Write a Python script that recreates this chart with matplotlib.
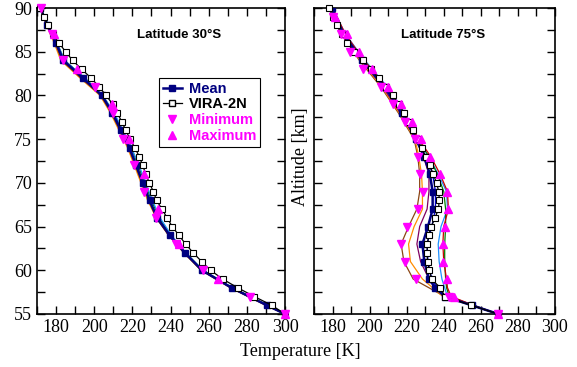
import matplotlib
matplotlib.use("Agg")
import matplotlib.pyplot as plt
from matplotlib.ticker import MultipleLocator
from matplotlib.lines import Line2D

# ---------------- Left panel: Latitude 30S ----------------
L_title = "Latitude 30\u00b0S"
L_z = [90, 88, 86, 84, 82, 80, 78, 76, 74, 72, 70, 68, 66, 64, 62, 60, 58, 56, 55]
L_mean = [171.8, 175.5, 180.0, 183.8, 194.0, 204.0, 209.5, 214.0, 218.5, 222.0, 225.5, 229.0, 233.0, 239.5, 247.5, 256.5, 272.0, 290.5, 300.0]
L_orange = [171.8, 175.0, 179.0, 182.5, 192.5, 203.0, 208.5, 213.0, 217.5, 221.0, 224.5, 228.0, 232.5, 239.0, 247.0, 256.0, 271.5, 290.0, 300.0]
L_brown = [171.8, 175.2, 179.5, 183.0, 193.0, 203.5, 209.0, 213.5, 218.0, 221.5, 225.0, 228.5, 232.5, 239.0, 247.0, 256.0, 271.5, 290.0, 300.0]
L_green = [172.0, 176.0, 180.5, 184.5, 195.0, 204.5, 210.0, 215.0, 219.5, 223.0, 226.5, 230.0, 234.0, 240.0, 248.0, 257.0, 272.5, 291.0, 300.0]
L_cyan = [172.0, 176.0, 180.5, 184.5, 195.0, 204.5, 210.5, 215.0, 219.5, 223.5, 227.0, 230.5, 234.5, 240.5, 248.0, 257.0, 272.5, 291.0, 300.0]
L_purple = [171.8, 175.5, 180.0, 184.0, 194.0, 204.0, 209.5, 214.5, 218.5, 222.0, 225.5, 229.0, 233.0, 239.5, 247.5, 256.5, 272.0, 290.5, 300.0]
L_red = [171.8, 175.3, 179.8, 183.5, 193.5, 203.8, 209.3, 214.0, 218.3, 221.8, 225.3, 228.8, 233.0, 239.3, 247.3, 256.3, 271.8, 290.3, 300.0]

L_vira_z = [90, 89, 88, 87, 86, 85, 84, 83, 82, 81, 80, 79, 78, 77, 76, 75, 74, 73, 72, 71,
            70, 69, 68, 67, 66, 65, 64, 63, 62, 61, 60, 59, 58, 57, 56, 55]
L_vira = [171.8, 173.8, 175.6, 178.2, 181.5, 185.0, 188.7, 193.4, 198.3, 202.5, 206.2, 209.7, 212.1, 214.4,
          216.6, 218.7, 221.4, 223.6, 225.4, 227.0, 228.9, 231.0, 232.7, 235.5, 238.2, 240.9, 244.4, 247.9,
          251.9, 256.3, 261.0, 267.3, 275.2, 283.9, 293.0, 300.0]

L_min_z = [90, 87, 84, 81, 78, 75, 72, 69, 66, 63, 60, 57, 55]
L_min = [171.9, 177.7, 183.8, 200.4, 209.7, 215.2, 221.0, 226.1, 232.2, 242.7, 256.8, 281.6, 300.0]
L_max_z = [87, 83, 79, 75, 71, 67, 63, 59, 55]
L_max = [179.0, 191.1, 209.5, 218.4, 226.1, 233.6, 244.6, 265.0, 300.0]

# ---------------- Right panel: Latitude 75S ----------------
R_title = "Latitude 75\u00b0S"
R_z = [90, 87, 84, 81, 78, 75, 73, 71, 69, 67, 65, 63, 61, 59, 58, 57, 56, 55]
R_mean = [179.5, 186.0, 196.0, 208.0, 217.5, 225.0, 229.5, 232.5, 234.0, 234.0, 231.5, 228.5, 229.5, 232.0, 235.5, 240.5, 255.0, 269.4]
R_brown = [179.5, 185.0, 194.5, 206.0, 215.5, 224.0, 226.0, 227.0, 227.0, 225.5, 221.0, 217.0, 218.5, 223.5, 232.0, 240.5, 255.0, 269.4]
R_orange = [179.5, 185.5, 195.0, 206.5, 216.0, 224.5, 226.5, 228.0, 228.5, 228.5, 224.0, 221.0, 222.0, 228.5, 234.0, 239.5, 255.0, 269.4]
R_purple = [179.0, 185.5, 195.5, 207.0, 216.5, 225.0, 229.0, 232.0, 232.0, 231.0, 227.0, 225.5, 227.5, 232.0, 236.0, 240.0, 255.0, 269.4]
R_blue = [179.5, 186.5, 196.5, 208.5, 218.0, 225.5, 230.5, 234.0, 235.5, 235.5, 233.5, 231.0, 231.5, 233.5, 236.5, 241.0, 255.0, 269.4]
R_cyan = [180.0, 187.0, 197.5, 209.5, 219.0, 226.0, 232.0, 237.0, 241.5, 242.0, 238.5, 237.0, 237.5, 239.0, 240.5, 242.0, 255.5, 269.4]
R_red = [180.0, 187.0, 197.0, 209.0, 218.5, 226.5, 233.0, 238.0, 242.0, 242.5, 240.0, 239.5, 240.0, 241.5, 242.0, 244.0, 256.0, 269.4]
R_green = [180.0, 186.5, 197.0, 209.0, 218.5, 226.0, 232.0, 236.5, 240.0, 241.0, 241.0, 240.5, 240.5, 241.0, 241.5, 243.0, 256.0, 269.4]

R_vira_z = L_vira_z
R_vira = [178.1, 180.2, 182.2, 185.0, 188.0, 191.6, 196.2, 200.5, 204.8, 208.8, 212.5, 215.8, 218.5, 220.5,
          223.4, 225.5, 228.0, 230.2, 232.4, 234.3, 236.1, 237.3, 237.6, 237.1, 235.3, 233.3, 231.8, 231.2,
          230.9, 231.3, 232.2, 233.5, 238.0, 240.7, 254.7, 269.4]

R_min_z = [89, 87, 85, 83, 81, 79, 77, 75, 73, 71, 69, 67, 65, 63, 61, 59, 57, 55]
R_min = [180.4, 184.6, 189.4, 196.2, 206.0, 212.8, 219.0, 224.5, 226.3, 227.2, 228.6, 226.0, 220.0, 216.8, 219.1, 225.0, 242.8, 269.4]
R_max_z = [89, 87, 85, 83, 81, 79, 77, 75, 73, 71, 69, 67, 65, 63, 61, 59, 57, 55]
R_max = [181.3, 187.6, 194.3, 201.1, 210.0, 217.0, 222.7, 227.5, 232.6, 238.0, 241.9, 242.5, 240.7, 239.4, 239.7, 241.6, 245.5, 269.4]

legend_labels = ["Mean", "VIRA-2N", "Minimum", "Maximum"]
x_label = "Temperature [K]"
y_label = "Altitude [km]"

NAVY = "#000080"
MAG = "#FF00FF"
serif = "Liberation Serif"
sans = "Liberation Sans"

fig = plt.figure(figsize=(5.77, 3.67), dpi=100)
axL = fig.add_axes([37 / 577, 1 - 314 / 367, 248 / 577, 306 / 367])
axR = fig.add_axes([314 / 577, 1 - 314 / 367, 241 / 577, 306 / 367])


def draw(ax, z, profiles, mean, vz, vira, mnz, mn, mxz, mx):
    for vals, col in profiles:
        ax.plot(vals, z, color=col, lw=0.9, zorder=2)
    ax.plot(mean, z, color=NAVY, lw=1.8, marker="s", ms=4.0, mfc=NAVY, mec=NAVY, zorder=3)
    ax.plot(vira, vz, color="black", lw=0.9, marker="s", ms=4.2, mfc="white", mec="black",
            mew=0.8, zorder=4, clip_on=False)
    ax.plot(mn, mnz, ls="none", marker="v", ms=6, color=MAG, zorder=5, clip_on=False)
    ax.plot(mx, mxz, ls="none", marker="^", ms=6, color=MAG, zorder=5, clip_on=False)
    ax.set_xlim(170, 300)
    ax.set_ylim(55, 90)
    ax.xaxis.set_major_locator(MultipleLocator(20))
    ax.xaxis.set_minor_locator(MultipleLocator(10))
    ax.yaxis.set_major_locator(MultipleLocator(5))
    ax.yaxis.set_minor_locator(MultipleLocator(2.5))
    ax.tick_params(which="both", direction="in", top=True, right=True, length=6, width=1.0)
    for lab in ax.get_xticklabels() + ax.get_yticklabels():
        lab.set_fontfamily(serif)
        lab.set_fontsize(13)
    for s in ax.spines.values():
        s.set_linewidth(1.2)


draw(axL, L_z,
     [(L_orange, "#FF8C00"), (L_brown, "#8B4513"), (L_green, "#008000"), (L_cyan, "#1E90FF"),
      (L_purple, "#800060"), (L_red, "#CC0000")],
     L_mean, L_vira_z, L_vira, L_min_z, L_min, L_max_z, L_max)
draw(axR, R_z,
     [(R_brown, "#8B4513"), (R_orange, "#FF8C00"), (R_purple, "#800060"), (R_blue, "#0000CD"),
      (R_cyan, "#1E90FF"), (R_green, "#008000"), (R_red, "#CC0000")],
     R_mean, R_vira_z, R_vira, R_min_z, R_min, R_max_z, R_max)
axR.tick_params(labelleft=False)

axL.text(0.573, 0.912, L_title, transform=axL.transAxes, ha="center", va="center",
         fontfamily=sans, fontweight="bold", fontsize=9.5)
axR.text(0.535, 0.912, R_title, transform=axR.transAxes, ha="center", va="center",
         fontfamily=sans, fontweight="bold", fontsize=9.5)

handles = [
    Line2D([], [], color=NAVY, lw=1.8, marker="s", ms=4.0),
    Line2D([], [], color="black", lw=0.9, marker="s", ms=4.2, mfc="white"),
    Line2D([], [], ls="none", marker="v", ms=6, color=MAG),
    Line2D([], [], ls="none", marker="^", ms=6, color=MAG),
]
leg = axL.legend(handles, legend_labels, loc="upper left", bbox_to_anchor=(0.492, 0.771),
                 frameon=True, fancybox=False, edgecolor="black", framealpha=1,
                 handlelength=1.3, handletextpad=0.5, borderpad=0.25, labelspacing=0.12,
                 borderaxespad=0, prop={"family": sans, "weight": "bold", "size": 10.5})
leg.get_frame().set_linewidth(0.8)
for t, c in zip(leg.get_texts(), [NAVY, "black", MAG, MAG]):
    t.set_color(c)

fig.text(300 / 577, 1 - 352 / 367, x_label, ha="center", va="center", fontfamily=serif, fontsize=13)
fig.text(301 / 577, 1 - 157 / 367, y_label, ha="center", va="center", rotation=90,
         fontfamily=serif, fontsize=13)

fig.savefig("out.png", dpi=100)
